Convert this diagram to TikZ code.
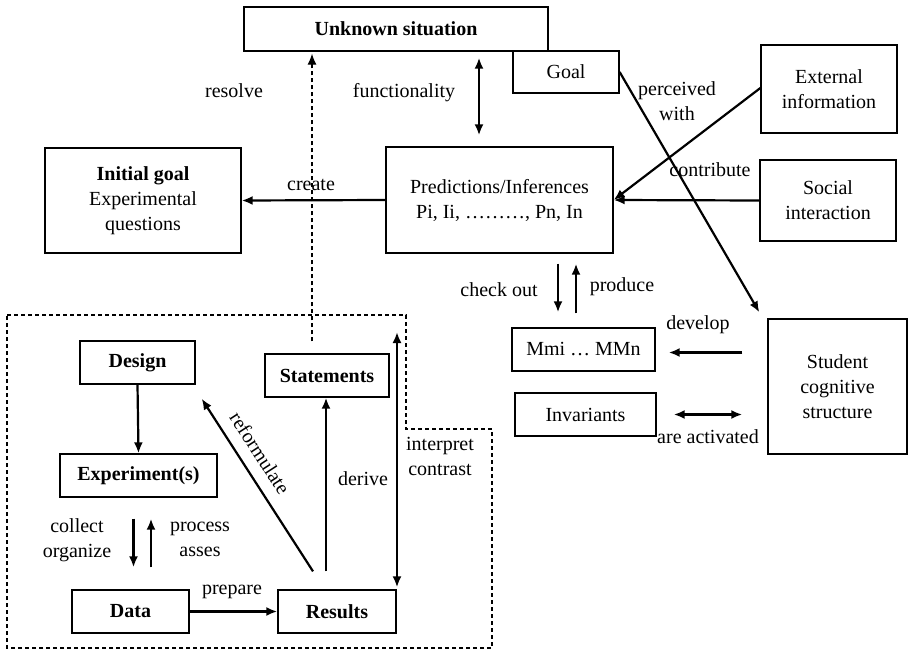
\documentclass[tikz,border=0pt]{standalone}
\usepackage{fontspec}
\setmainfont{Liberation Serif}
\usetikzlibrary{arrows.meta, positioning, calc}

\tikzset{
  box/.style 2 args={draw, line width=1.3pt, inner sep=2pt, align=center,
    minimum width=#1, minimum height=#2, font=\fontsize{20}{25}\selectfont},
  lbl/.style={inner sep=0pt, align=center, font=\fontsize{20}{25}\selectfont},
  arr/.style={line width=2.2pt, -{Latex[length=11pt,width=9pt]}},
  dbl/.style={line width=2.2pt, {Latex[length=11pt,width=9pt]}-{Latex[length=11pt,width=9pt]}},
  frame/.style={line width=1.2pt, dash pattern=on 4pt off 3pt},
}

\begin{document}
\begin{tikzpicture}[x=1pt, y=-1pt]
  \useasboundingbox (0,0) rectangle (909,650);
  % experimental cycle (dashed region)
  \draw[frame] (7,315) -- (406,315) -- (406,429) -- (492,429) -- (492,648)
    -- (7,648) -- cycle;

  % upper part
  \node[box={304pt}{44pt}] (unk) at (396,29) {\textbf{Unknown situation}};
  \node[box={106pt}{42pt}] (goal) at (566,72) {Goal};
  \node[box={136pt}{88pt}] (ext) at (829,89) {External\\information};
  \node[box={136pt}{81pt}] (soc) at (828,200.5) {Social\\interaction};
  \node[box={227pt}{106pt}] (pred) at (499.5,200) {Predictions/Inferences\\Pi, Ii, \dots\dots\dots, Pn, In};
  \node[box={196pt}{105pt}] (init) at (143,200.5) {\textbf{Initial goal}\\Experimental\\questions};
  \node[box={143pt}{43pt}] (mm) at (583.5,349.5) {Mmi \dots\ MMn};
  \node[box={141pt}{43pt}] (inv) at (585.5,414.5) {Invariants};
  \node[box={139pt}{135pt}] (stu) at (837.5,386.5) {Student\\cognitive\\structure};

  % lower part
  \node[box={115pt}{43pt}] (design) at (137.5,362.5) {\textbf{Design}};
  \node[box={124pt}{43pt}] (stat) at (327,375.5) {\textbf{Statements}};
  \node[box={157pt}{43pt}] (exp) at (138.5,475.5) {\textbf{Experiment(s)}};
  \node[box={117pt}{43pt}] (data) at (130.5,611.5) {\textbf{Data}};
  \node[box={118pt}{43pt}] (res) at (337,611.5) {\textbf{Results}};

  % connectors
  \draw[arr, frame, line width=1.2pt, shorten >=14pt]
    ([xshift=-15pt,yshift=12pt]stat.north) -- ([xshift=-15pt,yshift=12pt]stat.north |- unk.south);
  \draw[dbl, shorten <=6pt, shorten >=11pt] ([xshift=83pt]unk.south) -- ([xshift=83pt]unk.south |- pred.north);
  \draw[arr] (pred.west) -- (init.east);
  \draw[arr] (goal.east) -- ([xshift=-8pt,yshift=6pt]stu.north west);
  \draw[arr] ([yshift=1pt]ext.west) -- (pred.east);
  \draw[arr] (soc.west) -- (pred.east);
  \draw[arr, shorten <=10pt, shorten >=15pt] ([xshift=-25.5pt]mm.north |- pred.south) -- ([xshift=-25.5pt]mm.north);
  \draw[arr, shorten <=14pt, shorten >=10pt] ([xshift=-7.5pt]mm.north) -- ([xshift=-7.5pt]mm.north |- pred.south);
  \draw[arr, shorten <=25pt, shorten >=13pt] ([yshift=-3pt]mm.east -| stu.west) -- ([yshift=-3pt]mm.east);
  \draw[dbl, shorten <=17pt, shorten >=25pt] (inv.east) -- (inv.east -| stu.west);

  \coordinate (icTop) at (397,332);
  \draw[dbl, shorten >=2pt] (icTop) -- (icTop |- res.north);
  \draw[arr] (design.south) -- (exp.north);
  \draw[arr, shorten <=21pt, shorten >=22pt] ([xshift=-5pt]exp.south) -- ([xshift=-5pt]exp.south |- data.north);
  \draw[arr, shorten <=22pt, shorten >=21pt] ([xshift=12.5pt]exp.south |- data.north) -- ([xshift=12.5pt]exp.south);
  \draw[arr] (data.east) -- (res.west);
  \draw[arr] ([xshift=-24pt,yshift=18pt]res.north) -- ([xshift=6pt,yshift=-14pt]design.south east);
  \draw[arr, shorten <=18pt] ([xshift=-11pt]res.north) -- ([xshift=-11pt]res.north |- stat.south);

  % labels
  \node[lbl] (lRes) at (234,91) {resolve};
  \node[lbl] (lFun) at (404,93) {functionality};
  \node[lbl] (lCre) at (311,185) {create};
  \node[lbl] (lPer) at (677,101) {perceived\\with};
  \node[lbl] (lCon) at (710,170) {contribute};
  \node[lbl] (lChk) at (499,290) {check out};
  \node[lbl] (lPro) at (622,287) {produce};
  \node[lbl] (lDev) at (698,325) {develop};
  \node[lbl] (lAct) at (708,437) {are activated};
  \node[lbl] (lInt) at (440,456) {interpret\\contrast};
  \node[lbl] (lCol) at (77,540) {collect\\organize};
  \node[lbl] (lPrc) at (200,539) {process\\asses};
  \node[lbl] (lPrep) at (232,592) {prepare};
  \node[lbl] (lDer) at (363,479) {derive};
  \node[lbl, rotate=-57] (lRef) at (260,453) {reformulate};
\end{tikzpicture}
\end{document}
